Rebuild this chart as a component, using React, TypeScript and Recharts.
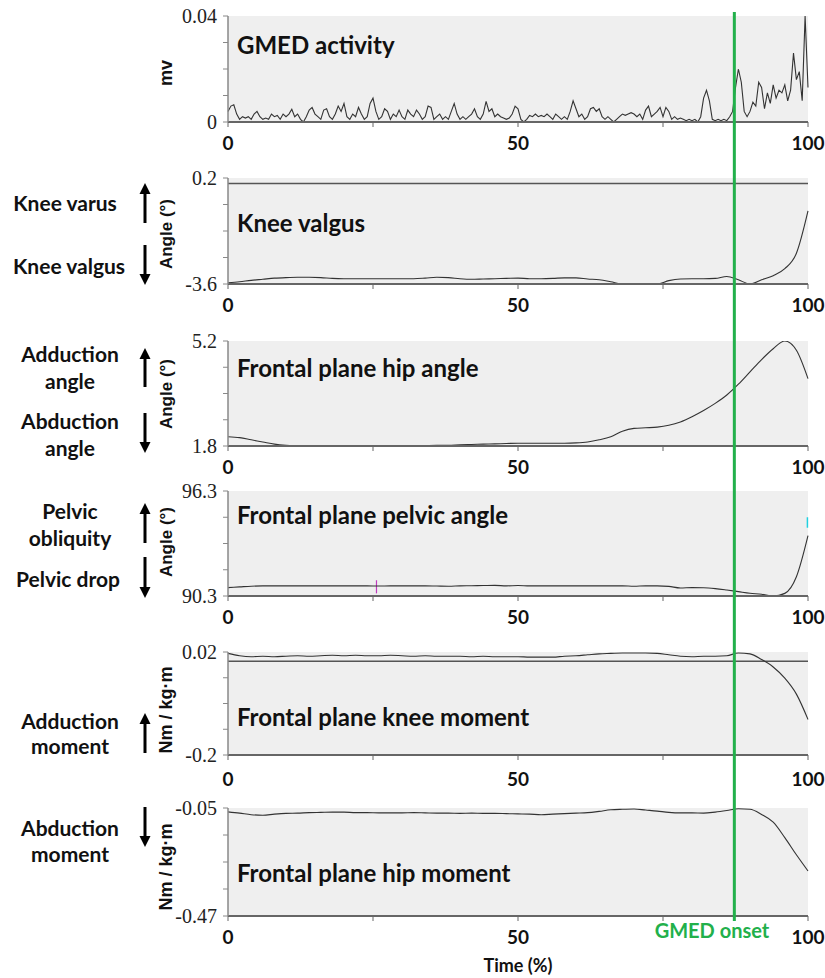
import React from "react"
import { LineChart, Line, XAxis, YAxis, CartesianGrid, ReferenceLine } from "recharts"

// GMED EMG, sampled every 0.5 % of the cycle (0 .. 100)
const EMG_STEP = 0.5
const emgMv = [
  0.004, 0.006, 0.0065, 0.003, 0.001, 0.002, 0.0015, 0.002, 0.001, 0.003, 0.004, 0.002, 0.001, 0.0015, 0.001, 0.003, 0.002, 0.0025, 0.001, 0.003,
  0.002, 0.003, 0.0048, 0.002, 0.003, 0.001, 0, 0.002, 0.0045, 0.0055, 0.003, 0.002, 0.001, 0.0045, 0.005, 0.002, 0.001, 0.003, 0.006, 0.004,
  0.007, 0.002, 0.001, 0.003, 0.002, 0.0055, 0.003, 0.001, 0.002, 0.007, 0.009, 0.004, 0.001, 0.002, 0.005, 0.004, 0.001, 0.003, 0.002, 0.0045,
  0.002, 0.001, 0.0045, 0.003, 0.002, 0.0045, 0.003, 0.001, 0.002, 0.006, 0.0055, 0.001, 0.002, 0.003, 0.001, 0.002, 0.001, 0.004, 0.007, 0.003,
  0.001, 0.002, 0.001, 0.002, 0.003, 0.005, 0.002, 0.001, 0.003, 0.0078, 0.004, 0.005, 0.002, 0.003, 0.002, 0.0015, 0.001, 0.0015, 0.003, 0.006,
  0.005, 0.001, 0, 0.001, 0.0025, 0.002, 0.003, 0.002, 0.0025, 0.002, 0.003, 0.002, 0.001, 0.003, 0.002, 0.001, 0.002, 0.001, 0.004, 0.008,
  0.005, 0.002, 0.003, 0.001, 0.002, 0.005, 0.0055, 0.004, 0.005, 0.002, 0.001, 0.002, 0.001, 0, 0.001, 0.002, 0.003, 0.0025, 0.003, 0.0035,
  0.003, 0.002, 0.003, 0.001, 0.0045, 0.006, 0.002, 0.003, 0.004, 0.0055, 0.002, 0.0055, 0.004, 0.001, 0.002, 0.001, 0.0015, 0.001, 0.0005, 0.001,
  0.0005, 0.001, 0, 0.002, 0.009, 0.012, 0.008, 0.001, 0.0005, 0.001, 0.0005, 0.001, 0.0005, 0.002, 0.004, 0.013, 0.02, 0.015, 0.004, 0.002,
  0.004, 0.0075, 0.006, 0.015, 0.013, 0.005, 0.011, 0.007, 0.014, 0.009, 0.012, 0.011, 0.014, 0.008, 0.012, 0.026, 0.016, 0.019, 0.008, 0.04,
  0.013,
]

// other signals sampled every 2 %
const pctTime = [
  0, 2, 4, 6, 8, 10, 12, 14, 16, 18, 20, 22, 24, 26, 28, 30, 32, 34, 36, 38, 40, 42, 44, 46, 48, 50,
  52, 54, 56, 58, 60, 62, 64, 66, 68, 70, 72, 74, 76, 78, 80, 82, 84, 86, 88, 90, 92, 94, 96, 98, 100,
]

const kneeValgus = [
  -3.56, -3.52, -3.47, -3.43, -3.39, -3.37, -3.36, -3.36, -3.37, -3.4, -3.41, -3.41, -3.41, -3.41, -3.41, -3.41, -3.41, -3.39, -3.36, -3.37, -3.41, -3.43, -3.42, -3.41, -3.4, -3.39,
  -3.41, -3.41, -3.4, -3.38, -3.38, -3.42, -3.45, -3.52, -3.6, -3.6, -3.6, -3.6, -3.48, -3.42, -3.41, -3.41, -3.4, -3.33, -3.45, -3.6, -3.45, -3.3, -3.05, -2.5, -0.98,
]

const hipAngle = [
  2.1, 2.07, 2.0, 1.93, 1.86, 1.82, 1.8, 1.8, 1.8, 1.8, 1.8, 1.8, 1.8, 1.8, 1.8, 1.8, 1.8, 1.81, 1.82, 1.82, 1.84, 1.85, 1.86, 1.87, 1.88, 1.89,
  1.89, 1.89, 1.89, 1.89, 1.9, 1.93, 2.0, 2.1, 2.28, 2.37, 2.39, 2.41, 2.47, 2.58, 2.75, 2.95, 3.18, 3.45, 3.8, 4.2, 4.6, 4.95, 5.2, 4.9, 3.98,
]

const pelvicAngle = [
  90.78, 90.82, 90.86, 90.88, 90.88, 90.88, 90.88, 90.88, 90.88, 90.88, 90.88, 90.88, 90.88, 90.87, 90.88, 90.88, 90.88, 90.88, 90.87, 90.86, 90.88, 90.89, 90.9, 90.91, 90.88, 90.9,
  90.88, 90.88, 90.88, 90.88, 90.88, 90.88, 90.88, 90.88, 90.88, 90.86, 90.88, 90.88, 90.85, 90.76, 90.78, 90.77, 90.72, 90.64, 90.55, 90.46, 90.4, 90.3, 90.45, 91.4, 93.75,
]

const kneeMoment = [
  0.017, 0.012, 0.01, 0.011, 0.01, 0.011, 0.012, 0.011, 0.012, 0.013, 0.012, 0.013, 0.012, 0.012, 0.013, 0.012, 0.011, 0.012, 0.011, 0.011, 0.011, 0.01, 0.011, 0.01, 0.01, 0.01,
  0.009, 0.009, 0.009, 0.011, 0.012, 0.014, 0.016, 0.017, 0.018, 0.018, 0.018, 0.017, 0.014, 0.011, 0.01, 0.011, 0.011, 0.012, 0.018, 0.016, 0.004, -0.012, -0.036, -0.07, -0.124,
]

const hipMoment = [
  -0.065, -0.07, -0.076, -0.078, -0.074, -0.071, -0.07, -0.068, -0.067, -0.066, -0.066, -0.068, -0.068, -0.069, -0.069, -0.069, -0.068, -0.069, -0.07, -0.07, -0.071, -0.07, -0.071, -0.071, -0.072, -0.073,
  -0.074, -0.076, -0.074, -0.072, -0.07, -0.068, -0.063, -0.057, -0.055, -0.054, -0.058, -0.062, -0.067, -0.069, -0.069, -0.07, -0.066, -0.06, -0.053, -0.055, -0.075, -0.105, -0.165, -0.232, -0.295,
]

const xTicks = [0, 25, 50, 75, 100]
const emgTicks = [0, 0.01, 0.02, 0.03, 0.04]
const kneeTicks = [-3.6, -2.65, -1.7, -0.75, 0.2]
const hipTicks = [1.8, 2.65, 3.5, 4.35, 5.2]
const pelvicTicks = [90.3, 91.8, 93.3, 94.8, 96.3]
const kneeMomTicks = [-0.2, -0.145, -0.09, -0.035, 0.02]
const hipMomTicks = [-0.47, -0.365, -0.26, -0.155, -0.05]

const GMED_ONSET = 87.3

const emgData = emgMv.map((v, i) => ({ t: i * EMG_STEP, v }))
const byPct = (vals: number[]) => pctTime.map((t, i) => ({ t, v: vals[i] }))

const PLOT_LEFT = 228
const PLOT_RIGHT = 808
const W = 825
const Y_W = 60
const PAD_TOP = 14
const X_H = 34
const PAD_BOTTOM = 4

const NARROW = "Lato, 'Open Sans', sans-serif"
const SERIF = "'Liberation Serif', 'Times New Roman', 'DejaVu Serif', serif"
const SANS = "'Liberation Sans', Arial, sans-serif"

const panels = [
  { key: "emg", top: 16, bottom: 122, data: emgData, ticks: emgTicks, curve: "linear", zero: false, title: "GMED activity", titleY: 44, yLabel: "mv", yLabelY: 73, yLabelSize: 18, xOff: 0, fmt: (v: number) => (v === 0 ? "0" : "0.04") },
  { key: "knee", top: 178, bottom: 284, data: byPct(kneeValgus), ticks: kneeTicks, curve: "monotone", zero: true, title: "Knee valgus", titleY: 222, yLabel: "Angle (°)", yLabelY: 234, yLabelSize: 17, xOff: 0, fmt: (v: number) => String(v) },
  { key: "hip", top: 341, bottom: 446, data: byPct(hipAngle), ticks: hipTicks, curve: "monotone", zero: false, title: "Frontal plane hip angle", titleY: 367, yLabel: "Angle (°)", yLabelY: 394, yLabelSize: 17, xOff: 0, fmt: (v: number) => String(v) },
  { key: "pelvis", top: 491, bottom: 596, data: byPct(pelvicAngle), ticks: pelvicTicks, curve: "monotone", zero: false, title: "Frontal plane pelvic angle", titleY: 514, yLabel: "Angle (°)", yLabelY: 542, yLabelSize: 17, xOff: 0, fmt: (v: number) => String(v) },
  { key: "kmom", top: 652, bottom: 755, data: byPct(kneeMoment), ticks: kneeMomTicks, curve: "monotone", zero: true, title: "Frontal plane knee moment", titleY: 716, yLabel: "Nm / kg·m", yLabelY: 710, yLabelSize: 18, xOff: 3, fmt: (v: number) => String(v) },
  { key: "hmom", top: 808, bottom: 916, data: byPct(hipMoment), ticks: hipMomTicks, curve: "monotone", zero: false, title: "Frontal plane hip moment", titleY: 872, yLabel: "Nm / kg·m", yLabelY: 867, yLabelSize: 18, xOff: 0, fmt: (v: number) => String(v) },
]

function YTick(props: any) {
  const { x, y, payload, lo, hi, fmt } = props
  const v = payload.value
  if (v !== lo && v !== hi) return null
  return (
    <text x={x} y={y} textAnchor="end" dominantBaseline="central" style={{ fontFamily: SERIF, fontSize: 20, fill: "#222" }}>
      {fmt(v)}
    </text>
  )
}

function XTick(props: any) {
  const { x, y, payload, off } = props
  const v = payload.value
  if (v % 50 !== 0) return null
  return (
    <text
      x={x}
      y={y + 11 + off}
      textAnchor="middle"
      dominantBaseline="central"
      style={{ fontFamily: NARROW, fontSize: 19, fontWeight: 700, fill: "#111" }}
    >
      {String(v)}
    </text>
  )
}

function Panel({ p }: { p: (typeof panels)[number] }) {
  const h = p.bottom - p.top
  const lo = p.ticks[0]
  const hi = p.ticks[p.ticks.length - 1]
  return (
    <div style={{ position: "absolute", left: 0, top: p.top - PAD_TOP }}>
      <LineChart
        width={W}
        height={h + PAD_TOP + X_H + PAD_BOTTOM}
        data={p.data}
        margin={{ top: PAD_TOP, right: W - PLOT_RIGHT, bottom: PAD_BOTTOM, left: PLOT_LEFT - Y_W }}
      >
        <CartesianGrid fill="#efefef" stroke="none" />
        <XAxis
          dataKey="t"
          type="number"
          domain={[0, 100]}
          ticks={xTicks}
          height={X_H}
          axisLine={{ stroke: "#666", strokeWidth: 2 }}
          tickLine={{ stroke: "#666" }}
          tickSize={5}
          tickMargin={4}
          tick={<XTick off={p.xOff} />}
        />
        <YAxis
          type="number"
          domain={[lo, hi]}
          ticks={p.ticks}
          allowDataOverflow
          width={Y_W}
          axisLine={{ stroke: "#888", strokeWidth: 1.5 }}
          tickLine={{ stroke: "#888" }}
          tickSize={5}
          tickMargin={6}
          tick={<YTick lo={lo} hi={hi} fmt={p.fmt} />}
        />
        {p.zero && <ReferenceLine y={0} stroke="#555" strokeWidth={1.5} />}
        {p.key === "pelvis" && (
          <ReferenceLine segment={[{ x: 25.6, y: 90.45 }, { x: 25.6, y: 91.2 }]} stroke="#c03cc0" strokeWidth={1.2} />
        )}
        {p.key === "pelvis" && (
          <ReferenceLine segment={[{ x: 99.9, y: 94.2 }, { x: 99.9, y: 94.8 }]} stroke="#20d0e0" strokeWidth={1.5} />
        )}
        <Line
          type={p.curve as "linear" | "monotone"}
          dataKey="v"
          stroke="#333"
          strokeWidth={1.1}
          dot={false}
          isAnimationActive={false}
        />
      </LineChart>
    </div>
  )
}

function UpArrow({ x, y1, y2 }: { x: number; y1: number; y2: number }) {
  return (
    <g>
      <line x1={x} y1={y1 + 10} x2={x} y2={y2} stroke="#000" strokeWidth={3} />
      <polygon points={`${x - 5.5},${y1 + 11} ${x + 5.5},${y1 + 11} ${x},${y1}`} fill="#000" />
    </g>
  )
}

function DownArrow({ x, y1, y2 }: { x: number; y1: number; y2: number }) {
  return (
    <g>
      <line x1={x} y1={y1} x2={x} y2={y2 - 10} stroke="#000" strokeWidth={3} />
      <polygon points={`${x - 5.5},${y2 - 11} ${x + 5.5},${y2 - 11} ${x},${y2}`} fill="#000" />
    </g>
  )
}

const sideTexts = [
  { text: "Knee varus", x: 65, y: 202 },
  { text: "Knee valgus", x: 69, y: 265 },
  { text: "Adduction", x: 70, y: 353 },
  { text: "angle", x: 70, y: 380 },
  { text: "Abduction", x: 70, y: 420 },
  { text: "angle", x: 70, y: 447 },
  { text: "Pelvic", x: 70, y: 510 },
  { text: "obliquity", x: 70, y: 537 },
  { text: "Pelvic drop", x: 68, y: 578 },
  { text: "Adduction", x: 70, y: 720 },
  { text: "moment", x: 70, y: 745 },
  { text: "Abduction", x: 70, y: 827 },
  { text: "moment", x: 70, y: 853 },
]

const ARROW_X = 145

export default function App() {
  const onsetX = PLOT_LEFT + (GMED_ONSET / 100) * (PLOT_RIGHT - PLOT_LEFT)
  return (
    <div style={{ position: "relative", width: W, height: 978, background: "#fff", overflow: "hidden" }}>
      <style>{`body{margin:0}`}</style>
      {panels.map((p) => (
        <Panel key={p.key} p={p} />
      ))}
      <svg width={W} height={978} style={{ position: "absolute", left: 0, top: 0, pointerEvents: "none" }}>
        {panels.map((p) => (
          <text
            key={p.key + "-title"}
            x={237}
            y={p.titleY}
            dominantBaseline="central"
            style={{ fontFamily: NARROW, fontWeight: 700, fontSize: 24, fill: "#111" }}
          >
            {p.title}
          </text>
        ))}
        {panels.map((p) => (
          <text
            key={p.key + "-ylab"}
            x={166}
            y={p.yLabelY}
            transform={`rotate(-90 166 ${p.yLabelY})`}
            textAnchor="middle"
            dominantBaseline="central"
            style={{ fontFamily: SANS, fontWeight: 700, fontSize: p.yLabelSize, fill: "#111" }}
          >
            {p.yLabel}
          </text>
        ))}
        {sideTexts.map((s, i) => (
          <text
            key={i}
            x={s.x}
            y={s.y}
            textAnchor="middle"
            dominantBaseline="central"
            style={{ fontFamily: NARROW, fontWeight: 700, fontSize: 21, fill: "#111" }}
          >
            {s.text}
          </text>
        ))}
        <UpArrow x={ARROW_X} y1={183} y2={223} />
        <DownArrow x={ARROW_X} y1={245} y2={285} />
        <UpArrow x={ARROW_X} y1={348} y2={387} />
        <DownArrow x={ARROW_X} y1={413} y2={453} />
        <UpArrow x={ARROW_X} y1={503} y2={543} />
        <DownArrow x={ARROW_X} y1={557} y2={598} />
        <UpArrow x={ARROW_X} y1={713} y2={753} />
        <DownArrow x={ARROW_X} y1={807} y2={847} />
        <line x1={onsetX} y1={12} x2={onsetX} y2={921} stroke="#22b04b" strokeWidth={3} />
        <text x={712} y={930} textAnchor="middle" dominantBaseline="central" style={{ fontFamily: NARROW, fontWeight: 700, fontSize: 20, fill: "#22b04b" }}>
          GMED onset
        </text>
        <text x={518} y={965} textAnchor="middle" dominantBaseline="central" style={{ fontFamily: NARROW, fontWeight: 700, fontSize: 18, fill: "#111" }}>
          Time (%)
        </text>
      </svg>
    </div>
  )
}
